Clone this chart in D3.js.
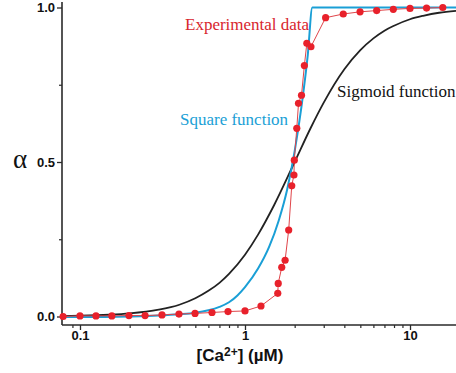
<!DOCTYPE html>
<html><head><meta charset="utf-8">
<script src="https://cdn.jsdelivr.net/npm/d3@7"></script>
<style>html,body{margin:0;padding:0;background:#fff;overflow:hidden}</style>
</head><body><svg id="c" width="456" height="373"></svg>
<script>
// Experimental data (red dots)
const expC = [0.079,0.1,0.125,0.156,0.198,0.248,0.314,0.398,0.498,0.631,0.789,1.0,1.25,1.58,1.59,1.67,1.75,1.84,1.92,1.98,1.99,2.06,2.11,2.2,2.29,2.37,2.51,3.08,3.94,4.98,6.28,7.92,10,12.6,15.8];
const expA = [0.0,0.002,0.002,0.002,0.003,0.003,0.005,0.008,0.01,0.013,0.016,0.018,0.034,0.075,0.107,0.159,0.182,0.28,0.423,0.458,0.506,0.609,0.69,0.716,0.812,0.884,0.873,0.967,0.979,0.986,0.99,0.994,0.997,0.998,1.0];
// Square function (blue)
const sqC = [0.078,0.1,0.2,0.3,0.4,0.5,0.6,0.7,0.8,0.9,1.0,1.2,1.4,1.6,1.8,2.0,2.2,2.4,2.56,19];
const sqA = [-0.002,-0.002,0.0,0.003,0.007,0.012,0.02,0.031,0.046,0.068,0.095,0.155,0.225,0.31,0.41,0.535,0.68,0.845,1.0,1.0];
// Sigmoid function (black)
const sgC = [0.078,0.1,0.15,0.2,0.3,0.4,0.5,0.6,0.7,0.8,1.0,1.2,1.5,2.0,2.5,3,4,5,6,7,8,10,12,15,19];
const sgA = [0.0015,0.0025,0.0056,0.0099,0.022,0.038,0.059,0.083,0.109,0.138,0.2,0.265,0.36,0.5,0.61,0.692,0.8,0.862,0.9,0.925,0.941,0.962,0.973,0.983,0.989];
// ticks
const xMajor = [0.1,1,10];
const xMinor = [0.09,0.2,0.3,0.4,0.5,0.6,0.7,0.8,0.9,2,3,4,5,6,7,8,9];
const yMajor = [0,0.5,1];
const yMinor = [0.25,0.75];

const svg = d3.select("#c");
const x = d3.scaleLog().domain([0.0778,19.0]).range([62,456]);
const y = d3.scaleLinear().domain([0,1]).range([316.5,7.5]);
const axisY = 325, axisX = 62;
const axCol = "#2a2a2a";
const tickFont = "bold 13px 'Liberation Sans', Arial, sans-serif";

// axis lines
svg.append("line").attr("x1",axisX).attr("x2",axisX).attr("y1",2).attr("y2",axisY).attr("stroke",axCol).attr("stroke-width",1.6);
svg.append("line").attr("x1",axisX).attr("x2",456).attr("y1",axisY).attr("y2",axisY).attr("stroke",axCol).attr("stroke-width",1.6);

// x axis major
const gx = svg.append("g").attr("transform",`translate(0,${axisY})`)
  .call(d3.axisBottom(x).tickValues(xMajor).tickSize(5).tickSizeOuter(0).tickFormat(d=>d3.format("~g")(d)));
gx.select(".domain").remove();
gx.selectAll("line").attr("stroke",axCol).attr("stroke-width",1.3);
gx.selectAll("text").attr("fill","#111").style("font",tickFont).attr("dy","0.62em").attr("y",7);
const gxm = svg.append("g").attr("transform",`translate(0,${axisY})`)
  .call(d3.axisBottom(x).tickValues(xMinor).tickSize(3).tickSizeOuter(0).tickFormat(""));
gxm.select(".domain").remove();
gxm.selectAll("line").attr("stroke",axCol).attr("stroke-width",1.2);

// y axis
const gy = svg.append("g").attr("transform",`translate(${axisX},0)`)
  .call(d3.axisLeft(y).tickValues(yMajor).tickSize(5).tickSizeOuter(0).tickFormat(d3.format(".1f")));
gy.select(".domain").remove();
gy.selectAll("line").attr("stroke",axCol).attr("stroke-width",1.3);
gy.selectAll("text").attr("fill","#111").style("font",tickFont).attr("x",-7);
const gym = svg.append("g").attr("transform",`translate(${axisX},0)`)
  .call(d3.axisLeft(y).tickValues(yMinor).tickSize(3).tickSizeOuter(0).tickFormat(""));
gym.select(".domain").remove();
gym.selectAll("line").attr("stroke",axCol).attr("stroke-width",1.2);

// axis titles
svg.append("text").attr("x",20).attr("y",168).attr("text-anchor","middle")
  .style("font","27px 'Liberation Serif', 'Times New Roman', serif").attr("fill","#111").text("α");
const xt = svg.append("text").attr("x",240).attr("y",361).attr("text-anchor","middle")
  .style("font","bold 17px 'Liberation Sans', Arial, sans-serif").attr("fill","#111");
xt.append("tspan").text("[Ca");
xt.append("tspan").attr("dy",-5).style("font-size","12px").text("2+");
xt.append("tspan").attr("dy",5).text("] (µM)");

// curves
const line = (cs, as, curve) => d3.line().x((d,i)=>x(cs[i])).y((d,i)=>y(as[i])).curve(curve)(cs);
svg.append("path").attr("d",line(sgC,sgA,d3.curveMonotoneX)).attr("fill","none").attr("stroke","#222").attr("stroke-width",1.8);
svg.append("path").attr("d",line(sqC,sqA,d3.curveMonotoneX)).attr("fill","none").attr("stroke","#1a9fd6").attr("stroke-width",2);
svg.append("path").attr("d",line(expC,expA,d3.curveLinear)).attr("fill","none").attr("stroke","#e0454a").attr("stroke-width",1);
svg.append("g").selectAll("circle").data(expC).join("circle")
  .attr("cx",(d)=>x(d)).attr("cy",(d,i)=>y(expA[i])).attr("r",3.6).attr("fill","#e8212b");

// annotations
const annFont = "17px 'Liberation Serif', 'Times New Roman', serif";
svg.append("text").attr("x",185).attr("y",30).style("font",annFont).attr("fill","#d8262e").text("Experimental data");
svg.append("text").attr("x",180).attr("y",125).style("font",annFont).attr("fill","#1a9fd6").text("Square function");
svg.append("text").attr("x",337).attr("y",97).style("font",annFont).attr("fill","#111").text("Sigmoid function");
</script></body></html>
